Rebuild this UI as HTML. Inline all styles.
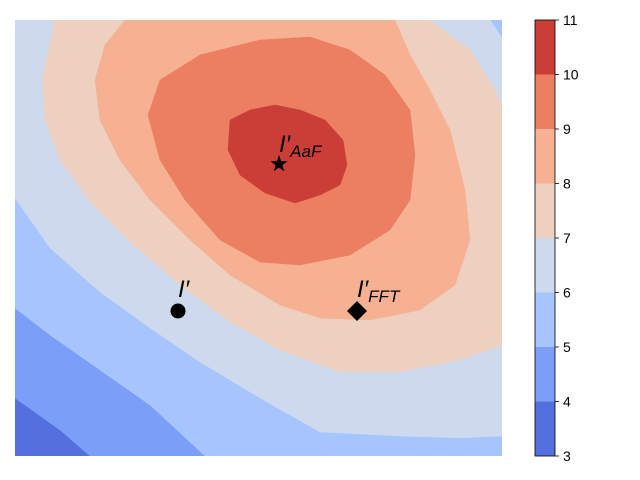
<!DOCTYPE html>
<html><head><meta charset="utf-8"><style>
html,body{margin:0;padding:0;background:#fff;}
svg{display:block;font-family:"Liberation Sans","DejaVu Sans",sans-serif;}
</style></head><body>
<svg id="chart" width="640" height="480"></svg>
<script>
// contour levels and colors
const levels = [3,4,5,6,7,8,9,10,11];
const levelColors = ["#5470de","#7b9ff9","#a6c4fe","#cdd9ec","#eed0c0","#f6b092","#ec7f62","#cb3e38"];
const tickLabels = ["3","4","5","6","7","8","9","10","11"];
// contour region boundaries (>= level), data units on grid domain [15,502]x[20,456]
const region4 = [[15,20],[502,20],[502,456],[90,456],[60,430],[15,398]];
const region5 = [[15,20],[502,20],[502,456],[205,456],[150,405],[100,370],[50,335],[15,308]];
const region6 = [[15,20],[490,20],[502,38],[502,436],[460,438],[400,436],[320,432],[260,398],[200,362],[150,328],[100,292],[50,248],[15,198]];
const region7 = [[55,20],[430,20],[470,50],[495,90],[502,105],[502,345],[460,360],[400,372],[340,372],[280,350],[230,322],[180,285],[130,242],[90,202],[60,160],[45,120],[42,80]];
const region8 = [[125,20],[395,20],[410,55],[430,90],[450,130],[465,190],[470,240],[455,285],[420,310],[370,320],[320,318],[280,305],[230,275],[190,240],[150,200],[120,160],[100,120],[95,80],[105,45]];
const region9 = [[260,40],[310,37],[350,50],[385,75],[410,110],[415,155],[410,200],[390,230],[350,255],[300,265],[260,262],[220,240],[185,200],[160,160],[148,115],[160,80],[200,55]];
const region10 = [[230,120],[250,110],[275,105],[300,110],[325,120],[343,140],[347,165],[340,185],[320,195],[295,203],[265,193],[240,175],[228,150]];
const regions = [region4,region5,region6,region7,region8,region9,region10];
// markers
const markerNames = ["star","circle","diamond"];
const markerX = [279,178,357];
const markerY = [164,311,311];

const NS="http://www.w3.org/2000/svg";
const svg=document.getElementById('chart');
const PL=15,PR=502,PT=20,PB=456;
const x=v=>PL+(v-15)/(502-15)*(PR-PL);
const y=v=>PT+(v-20)/(456-20)*(PB-PT);
function mk(t,a,p){const e=document.createElementNS(NS,t);for(const k in a)e.setAttribute(k,a[k]);(p||svg).appendChild(e);return e;}
const clip=mk('clipPath',{id:'pc'});mk('rect',{x:PL,y:PT,width:PR-PL,height:PB-PT},clip);
const g=mk('g',{'clip-path':'url(#pc)'});


const bg=mk('rect',{x:PL,y:PT,width:PR-PL,height:PB-PT,fill:levelColors[0]},g);


regions.forEach((r,i)=>{
  const p=mk('polygon',{points:r.map(q=>x(q[0])+','+y(q[1])).join(' '),fill:levelColors[i+1],stroke:levelColors[i+1],'stroke-width':0.5},g);
  
  
});
// markers
markerNames.forEach((n,i)=>{
  const cx=x(markerX[i]),cy=y(markerY[i]);let e;
  if(n==='circle')e=mk('circle',{cx,cy,r:7.5,fill:'#000'});
  else if(n==='diamond')e=mk('polygon',{points:`${cx},${cy-10} ${cx+10},${cy} ${cx},${cy+10} ${cx-10},${cy}`,fill:'#000'});
  else{let pts=[];for(let k=0;k<10;k++){const a=-Math.PI/2+k*Math.PI/5,rr=k%2?3.6:9;pts.push((cx+rr*Math.cos(a))+','+(cy+rr*Math.sin(a)));}e=mk('polygon',{points:pts.join(' '),fill:'#000'});}
  
  
});
</script>
<svg width="640" height="480" style="position:absolute;left:0;top:0">
<text x="279" y="152" font-size="24" font-style="italic">I′<tspan font-size="17" dy="5">AaF</tspan></text>
<text x="178" y="297" font-size="24" font-style="italic">I′</text>
<text x="357" y="297" font-size="24" font-style="italic">I′<tspan font-size="17" dy="5">FFT</tspan></text>
</svg>
<script>
(function(){
const svg2=document.querySelectorAll('svg')[1];
const CT=20,CB=456,CL=535,CW=20;
const cy=v=>CB-(v-levels[0])/(levels[levels.length-1]-levels[0])*(CB-CT);
const cb=document.createElementNS(NS,'g');svg2.appendChild(cb);


for(let i=0;i<levelColors.length;i++){
  const r=document.createElementNS(NS,'rect');
  r.setAttribute('x',CL);r.setAttribute('y',cy(levels[i+1]));r.setAttribute('width',CW);r.setAttribute('height',cy(levels[i])-cy(levels[i+1]));r.setAttribute('fill',levelColors[i]);
  
  
  cb.appendChild(r);
}
const fr=document.createElementNS(NS,'rect');
fr.setAttribute('x',CL);fr.setAttribute('y',CT);fr.setAttribute('width',CW);fr.setAttribute('height',CB-CT);fr.setAttribute('fill','none');fr.setAttribute('stroke','#000');fr.setAttribute('stroke-width','0.8');


cb.appendChild(fr);
levels.forEach((v,i)=>{
  const t=document.createElementNS(NS,'line');
  t.setAttribute('x1',CL+CW);t.setAttribute('x2',CL+CW+4);t.setAttribute('y1',cy(v));t.setAttribute('y2',cy(v));t.setAttribute('stroke','#000');t.setAttribute('stroke-width','0.8');
  
  
  cb.appendChild(t);
  const l=document.createElementNS(NS,'text');
  l.setAttribute('x',CL+CW+8);l.setAttribute('y',cy(v)+5);l.setAttribute('font-size','14');l.textContent=tickLabels[i];
  
  
  cb.appendChild(l);
});
})();
</script>
</body></html>
